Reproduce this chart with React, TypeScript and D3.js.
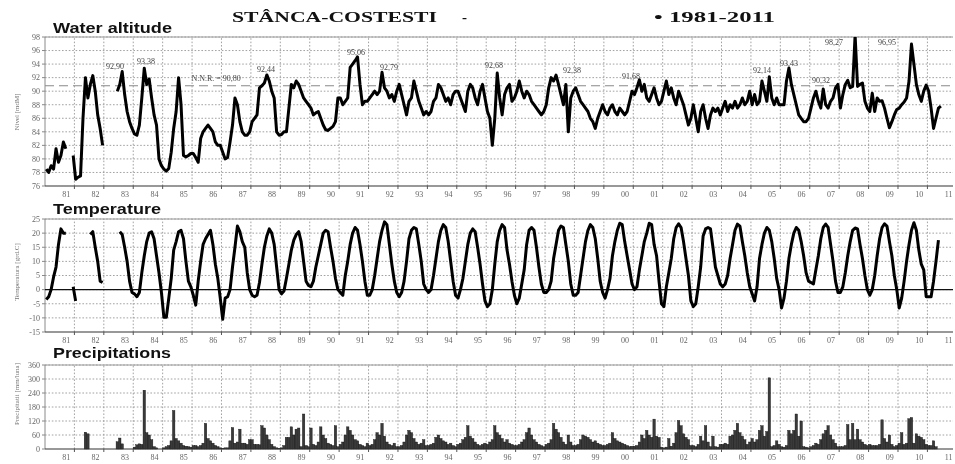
import React from 'react';
import * as d3 from 'd3';

const START = 1981;
const END = 2011.87;

const yearLabels = ['81','82','83','84','85','86','87','88','89','90','91','92','93','94','95','96','97','98','99','00','01','02','03','04','05','06','07','08','09','10','11'];

// monthly water level [mdM], Jan 1981 ...
const waterLevel: (number | null)[] = [
  78.5, 78, 79, 78.5, 81.5, 79.5, 80.5, 82.5, 81.5, null, null, 80.5,
  77, 77.3, 77.5, 86, 92, 89, 91, 92.3, 90, 86.5, 84.5, 82,
  null, null, null, null, null, 90, 91, 92.9, 89.5, 87, 85.5, 84.5,
  83.7, 83.5, 85, 89, 93.4, 91, 91.8, 89, 86.5, 85, 80, 79,
  78.5, 78.2, 78.6, 81, 84.5, 87, 92, 88, 80.5, 80.3, 80.5, 80.8,
  80.8, 80.2, 79.5, 83, 84, 84.5, 85, 84.5, 84, 82.5, 82, 82,
  81, 80, 80.2, 82.5, 85, 89, 88, 85.5, 84, 83.5, 83.5, 84,
  85.5, 86, 86.5, 90.5, 90.8, 91.2, 92.4, 91.5, 90, 89, 84, 83.5,
  83.6, 84, 84, 87.5, 91, 90.5, 91.5, 91, 90, 89, 88.5, 88,
  87.5, 86.5, 86.8, 87, 86, 85, 84.3, 84.2, 84.5, 84.8, 85.5, 89,
  89, 88, 88.5, 89, 93.5, 94, 94.5, 95.06, 91, 88, 88.5, 88.5,
  89, 89.5, 90, 89.5, 90, 92.8, 90.5, 90, 89, 89.5, 88.5, 90,
  91, 89.5, 88, 86.5, 88.5, 89, 91.5, 90, 88.5, 87.5, 86.5, 87,
  86.5, 87, 88.5, 89, 91, 90.5, 89.5, 88.5, 89, 88, 89.5, 90,
  90, 89, 88, 87, 90, 91, 90.5, 89, 88, 90, 91, 89,
  87, 86, 82, 86, 92.68, 89, 86.5, 89.5, 90.5, 91, 88.5, 89,
  90, 91.5, 90, 89, 90, 89.5, 88.5, 88, 87.5, 87, 86.5, 87,
  88, 90.5, 92, 91.5, 92.38, 91, 89.5, 88, 91, 84, 89, 90,
  90.5, 89.5, 88.5, 88, 87.5, 87, 86, 85.5, 84.5, 86, 87, 88,
  87, 86.5, 87.5, 88, 87, 86.5, 87.5, 87, 86.5, 87, 88.5, 90,
  89.5, 90.5, 91.68, 90, 91, 89, 88.5, 89.5, 90.5, 89, 88, 88.5,
  90, 91.5, 89.5, 90.5, 89, 88, 90, 89, 88, 86.5, 85, 86,
  88, 86, 84, 87, 88, 86, 84.5, 86.5, 87.5, 87, 87.5, 86.5,
  87.5, 88.5, 87, 88, 87.5, 88.5, 87.5, 88, 89, 88, 88.5, 90,
  88, 89.5, 88, 88.5, 91.5, 90, 88.5, 92.14, 89, 88, 89, 88,
  88, 88, 91.5, 93.43, 91, 89.5, 88, 86.5, 86, 85.5, 85.5, 86,
  87.5, 89, 90, 88.5, 87.5, 90.32, 88, 87.5, 88.5, 89, 90.5, 91,
  87.5, 89.5, 91, 91.6, 90.5, 90.7, 98.27, 90.7, 91, 91.2, 88.5, 87.5,
  87, 89.7, 87, 89, 88.5, 88.6, 87.5, 86, 84.6, 85.5, 86.5, 87.3,
  87.5, 88, 88.4, 89, 91.5, 96.95, 94, 91, 89.5, 88.5, 90, 90.9,
  90, 87.5, 84.5, 86, 87.5, 87.8,
];

// monthly mean temperature [grd.C]
const temperature: (number | null)[] = [
  -3.5, -2.5, 0, 4.5, 8, 16, 21.5, 20, 20, null, null, 1,
  -4, null, null, null, null, null, 19.5, 20.5, 15, 10, 3, 2.5,
  null, null, null, null, null, null, 20.5, 19.5, 15, 10, 3, -1,
  -1.5, -2.5, -1, 6, 12, 17, 20, 20.5, 18, 12, 6, -1,
  -9.8, -9.8, -3, 4, 14, 17, 20.5, 21, 18, 10, 3, 1,
  -2, -5.5, 3, 10, 16, 18, 19.5, 21, 16, 9, 4, -3,
  -10.5, -3, -2.5, 0, 8, 15, 22.5, 20.5, 17, 15, 6, 0,
  -2, -2.5, -2, 2.5, 9, 15, 19, 21.5, 20, 16, 8, 0,
  -1.5, -0.5, 4, 9, 14, 17.5, 19.5, 20.5, 17, 10, 3, 1.5,
  1, 3, 8, 12, 16, 20, 21, 20.5, 15, 10, 4, 0,
  -1, -2, 5, 10, 16, 20, 22, 21, 16, 10, 3, -2,
  -2, 0, 5, 11, 17, 21, 24, 23, 16, 9, 3, -1,
  -2.5, -1, 3, 10, 18, 21, 22, 21.5, 16, 10, 2, 0,
  -1, 0, 5, 11, 17, 21, 23, 22, 17, 10, 3, -2,
  -3, 0, 4, 10, 16, 20, 21.5, 20.5, 15, 9, 2, -4,
  -6, -5, 0, 9, 17, 21, 23, 22, 14, 9, 3, -2,
  -5, -3, 2, 7, 16, 21, 22, 21, 15, 8, 2, -1,
  -1, 0, 3, 11, 16, 21, 22.5, 22, 16, 10, 2, -2,
  -2, -1, 5, 11, 17, 21, 23, 22, 18, 11, 3, -1,
  -3, 0, 4, 12, 17, 21, 23.5, 23, 17, 12, 7, 2,
  0, 1, 7, 12, 17, 20, 23.5, 23, 16, 12, 3, -5,
  -6, 1, 6, 11, 18, 22, 23.3, 22, 17, 11, 5, -4,
  -6, -5, 1, 8, 19, 21.5, 22, 21.5, 15, 8, 5, 2,
  1, 2, 5, 11, 16, 21, 23.2, 22.5, 17, 12, 6, 1,
  -1.5, -4, 1, 11, 16, 20, 22, 21, 17, 11, 4, 0,
  -6.5, -3, 3, 11, 16, 20, 22, 21, 17, 12, 6, 3,
  2.5, 2, 7, 12, 18, 22, 23.2, 22, 16, 10, 3, -1,
  -1, 1, 6, 12, 17, 21, 21.8, 21.5, 16, 11, 5, 0,
  -2, 0, 5, 12, 18, 22, 23.3, 22.5, 17, 12, 5, 0,
  -6.5, -3, 3, 10, 16, 21, 23.7, 21, 14, 9, 7, -2.5,
  -2.5, -2.5, 3, 10, 17.5,
];

// monthly precipitation [mm/luna]
const precipitation: number[] = [
  0, 0, 0, 0, 0, 0, 0, 0, 0, 0, 0, 0,
  0, 0, 0, 0, 72, 65, 0, 0, 0, 0, 0, 0,
  0, 0, 0, 0, 0, 31, 47, 22, 0, 0, 0, 0,
  8, 18, 22, 20, 252, 70, 60, 40, 10, 5, 0, 0,
  5, 10, 15, 35, 165, 45, 35, 25, 15, 12, 10, 8,
  15, 15, 10, 15, 25, 110, 45, 35, 25, 15, 10, 5,
  3, 5, 5, 35, 92, 25, 30, 85, 25, 25, 20, 40,
  40, 20, 20, 18, 100, 90, 60, 40, 20, 10, 5, 3,
  5, 15, 50, 50, 95, 60, 85, 90, 10, 150, 15, 10,
  90, 20, 15, 30, 95, 60, 45, 25, 20, 15, 100, 10,
  20, 30, 60, 95, 80, 60, 40, 35, 20, 15, 10, 25,
  15, 20, 40, 70, 60, 110, 55, 30, 20, 15, 25, 10,
  10, 15, 30, 60, 80, 70, 45, 30, 20, 25, 40, 15,
  15, 20, 25, 50, 60, 45, 35, 30, 20, 25, 15, 10,
  20, 25, 40, 50, 100, 55, 45, 30, 20, 15, 20, 25,
  20, 30, 40, 100, 70, 60, 45, 30, 40, 25, 20, 15,
  15, 20, 30, 40, 70, 90, 60, 40, 30, 20, 15, 10,
  20, 25, 40, 110, 85, 70, 50, 30, 20, 60, 30, 15,
  15, 20, 40, 60, 55, 50, 40, 30, 35, 25, 20, 15,
  15, 20, 25, 70, 45, 35, 30, 25, 20, 15, 10, 12,
  12, 15, 30, 60, 45, 80, 60, 50, 128, 55, 50, 8,
  5, 8, 45, 12, 25, 70, 122, 100, 65, 50, 40, 15,
  15, 10, 20, 55, 35, 100, 30, 10, 55, 10, 8, 20,
  20, 25, 20, 55, 60, 80, 110, 70, 55, 40, 20, 30,
  45, 30, 40, 80, 100, 55, 75, 305, 10, 15, 35, 20,
  10, 8, 15, 80, 65, 80, 150, 55, 120, 10, 8, 5,
  10, 15, 25, 20, 40, 65, 80, 100, 60, 40, 25, 10,
  10, 10, 15, 105, 40, 110, 40, 85, 40, 30, 20, 15,
  20, 15, 15, 15, 20, 125, 45, 30, 60, 20, 10, 15,
  25, 70, 20, 25, 130, 135, 25, 65, 55, 50, 40, 20,
  15, 15, 35, 10,
];

// annotated maxima (text, and where the text sits in data units)
const peakLabels = ['92,90', '93,38', '92,44', '95,06', '92,79', '92,68', '92,38', '91,68', '92,14', '93,43', '90,32', '98,27', '96,95'];
const peakTimes = [1983.07, 1984.13, 1988.21, 1991.27, 1992.39, 1995.96, 1998.61, 2000.62, 2005.07, 2005.99, 2007.08, 2007.52, 2009.32];
const peakValues = [93.28, 94.0, 92.83, 95.34, 93.13, 93.42, 92.68, 91.8, 92.68, 93.72, 91.2, 96.8, 96.8];

const NNR = 90.8;

const monthT = (i: number) => START + (i + 0.5) / 12;

type Pt = { t: number; v: number | null };

function Panel(props: {
  x: d3.ScaleLinear<number, number>;
  y: d3.ScaleLinear<number, number>;
  ticks: number[];
  title: string;
  titleY: number;
  titleLen: number;
  yTitle: string;
  yTitleY: number;
  children?: React.ReactNode;
}) {
  const { x, y, ticks, title, titleY, titleLen, yTitle, yTitleY } = props;
  const [y0, y1] = y.range();
  const [x0, x1] = x.range();
  const gridYears = d3.range(1982, 2012);
  return (
    <g>
      <text x={53} y={titleY} fontFamily="Liberation Sans, Arial, sans-serif" fontWeight="bold" fontSize={15} textLength={titleLen} lengthAdjust="spacingAndGlyphs" fill="#111">{title}</text>
      {ticks.slice(1).map((t) => (
        <line key={'h' + t} x1={x0} x2={x1} y1={y(t)} y2={y(t)} stroke="#8a8a8a" strokeWidth={0.8} strokeDasharray="1.6,1.8" />
      ))}
      {gridYears.map((yr) => (
        <line key={'v' + yr} x1={x(yr)} x2={x(yr)} y1={y0} y2={y1} stroke="#8a8a8a" strokeWidth={0.8} strokeDasharray="1.6,1.8" />
      ))}
      <line x1={x0} x2={x1} y1={y1} y2={y1} stroke="#9a9a9a" strokeWidth={1} />
      <line x1={x0} x2={x0} y1={y0} y2={y1} stroke="#8a8a8a" strokeWidth={1} />
      {props.children}
      <line x1={x0} x2={x1} y1={y0} y2={y0} stroke="#333" strokeWidth={1.2} />
      {ticks.map((t) => (
        <g key={'t' + t}>
          <line x1={x0 - 3} x2={x0} y1={y(t)} y2={y(t)} stroke="#888" />
          <text x={x0 - 5} y={y(t) + 2.8} textAnchor="end" fontFamily="Liberation Serif, serif" fontSize={8} fill="#666">{t}</text>
        </g>
      ))}
      {gridYears.map((yr) => (
        <line key={'xt' + yr} x1={x(yr)} x2={x(yr)} y1={y0} y2={y0 + 3} stroke="#555" />
      ))}
      {yearLabels.map((lab, i) => (
        <text key={'xl' + lab} x={x(START + i + 0.72)} y={y0 + 11} textAnchor="middle" fontFamily="Liberation Serif, serif" fontSize={8} fill="#666">{lab}</text>
      ))}
      <text transform={`translate(${19},${yTitleY}) rotate(-90)`} textAnchor="middle" fontFamily="Liberation Serif, serif" fontSize={7} fill="#777">{yTitle}</text>
    </g>
  );
}

export default function App() {
  const x = d3.scaleLinear().domain([START, END]).range([45, 953]);
  const yW = d3.scaleLinear().domain([76, 98]).range([186, 37]);
  const yT = d3.scaleLinear().domain([-15, 25]).range([332, 219]);
  const yP = d3.scaleLinear().domain([0, 360]).range([449, 365]);

  const wPts: Pt[] = waterLevel.map((v, i) => ({ t: monthT(i), v }));
  const tPts: Pt[] = temperature.map((v, i) => ({ t: monthT(i), v }));

  const lineW = d3.line<Pt>().defined((d) => d.v != null).x((d) => x(d.t)).y((d) => yW(d.v as number));
  const lineT = d3.line<Pt>().defined((d) => d.v != null).x((d) => x(d.t)).y((d) => yT(d.v as number));

  const monthW = x(START + 1 / 12) - x(START);

  return (
    <svg width={955} height={464} style={{ position: 'absolute', left: 0, top: 0, background: '#fff', willChange: 'transform' }}>
      <defs>
        <clipPath id="clipW"><rect x={45} y={37} width={908} height={149} /></clipPath>
      </defs>
      <rect width={955} height={464} fill="#fff" />
      <text x={232} y={22} fontFamily="Liberation Serif, Times New Roman, serif" fontWeight="bold" fontSize={15} textLength={205} lengthAdjust="spacingAndGlyphs" fill="#111">STÂNCA-COSTESTI</text>
      <text x={462} y={22} fontFamily="Liberation Serif, Times New Roman, serif" fontWeight="bold" fontSize={15} fill="#111">-</text>
      <text x={654} y={22} fontFamily="Liberation Serif, Times New Roman, serif" fontWeight="bold" fontSize={15} textLength={121} lengthAdjust="spacingAndGlyphs" fill="#111">• 1981-2011</text>

      <Panel x={x} y={yW} ticks={d3.range(76, 99, 2)} title="Water altitude" titleY={33} titleLen={119} yTitle="Nivel  [mdM]" yTitleY={112}>
        <line x1={45} x2={953} y1={yW(NNR)} y2={yW(NNR)} stroke="#888" strokeWidth={1} strokeDasharray="9,5" />
        <path d={lineW(wPts) || ''} fill="none" stroke="#000" strokeWidth={3} strokeLinejoin="round" clipPath="url(#clipW)" />
        <text x={x(1985.98)} y={81} fontFamily="Liberation Serif, serif" fontSize={8} fill="#444">N.N.R. = 90,80</text>
        {peakLabels.map((lab, i) => (
          <text key={lab} x={x(peakTimes[i])} y={yW(peakValues[i])} fontFamily="Liberation Serif, serif" fontSize={8} fill="#444">{lab}</text>
        ))}
      </Panel>

      <Panel x={x} y={yT} ticks={d3.range(-15, 26, 5)} title="Temperature" titleY={214} titleLen={108} yTitle="Temperatura  [grd.C]" yTitleY={272}>
        <line x1={45} x2={953} y1={yT(0)} y2={yT(0)} stroke="#111" strokeWidth={1.2} />
        <path d={lineT(tPts) || ''} fill="none" stroke="#000" strokeWidth={3} strokeLinejoin="round" />
      </Panel>

      <Panel x={x} y={yP} ticks={d3.range(0, 361, 60)} title="Precipitations" titleY={358} titleLen={118} yTitle="Precipitatii  [mm/luna]" yTitleY={394}>
        {precipitation.map((v, i) => (
          v > 0 ? <rect key={i} x={x(START + i / 12)} y={yP(v)} width={monthW} height={yP(0) - yP(v)} fill="#3a3a3a" stroke="#111" strokeWidth={0.4} /> : null
        ))}
      </Panel>
    </svg>
  );
}
